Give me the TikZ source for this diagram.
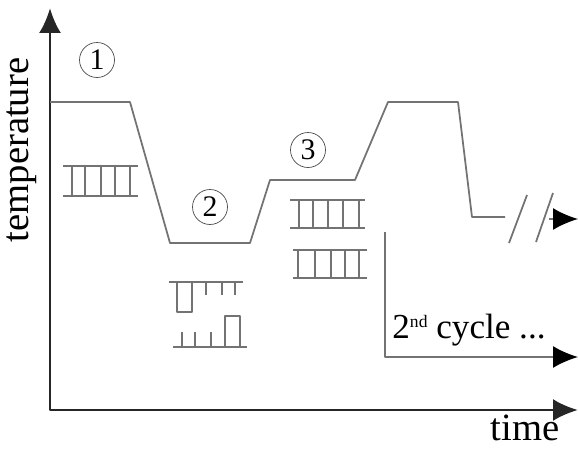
\documentclass[tikz,border=0pt]{standalone}
\usepackage{fontspec}
\setmainfont{Liberation Serif}
\usetikzlibrary{arrows.meta}

\begin{document}
\begin{tikzpicture}[x=0.02cm,y=-0.02cm,line join=round,
  font=\fontsize{22}{26}\selectfont,
  axis/.style={line width=1.6pt,black!85},
  tip/.style={-{Latex[length=0.5cm,width=0.44cm,color=black]}},
  curve/.style={line width=1pt,black!55},
  strand/.style={line width=1pt,black!55},
  phase/.style={circle,draw,black!70,text=black,inner sep=0pt,minimum size=0.7cm,
    font=\fontsize{17}{17}\selectfont}]
\useasboundingbox (0,0) rectangle (578,450);
% axes
\coordinate (ytop) at (50,8);
\coordinate (o) at (50,410);
\coordinate (xend) at (578,410);
\draw [axis,{Latex[length=0.5cm,width=0.44cm]}-{Latex[length=0.5cm,width=0.44cm]}] (ytop) -- (o) -- (xend);
\node (temp) at (22,150) [rotate=90] {temperature};
\node (time) at (525,428) {time};
% temperature profile
\coordinate (a) at (50,102);
\coordinate (b) at (130,102);
\coordinate (c) at (170,243);
\coordinate (d) at (250,243);
\coordinate (e) at (270,180);
\coordinate (f) at (355,180);
\coordinate (g) at (388,102);
\coordinate (h) at (458,102);
\coordinate (i) at (472,217);
\coordinate (j) at (505,217);
\draw [curve] (a) -- (b) -- (c) -- (d) -- (e) -- (f) -- (g) -- (h) -- (i) -- (j);
% axis break
\draw [curve] (509,243) -- (527,195);
\draw [curve] (536,242) -- (553,193);
\coordinate (brk) at (549,219);
\coordinate (brkend) at (578,219);
\draw [curve,tip] (brk) -- (brkend);
% phases
\node (p1) at (97,60) [phase] {1};
\node (p2) at (210,207) [phase] {2};
\node (p3) at (308,150) [phase] {3};
% double strand before melting
\coordinate (l1a) at (63,166);
\coordinate (l1b) at (138,166);
\coordinate (l1c) at (63,196);
\coordinate (l1d) at (138,196);
\draw [strand] (l1a) -- (l1b);
\draw [strand] (l1c) -- (l1d);
\draw [strand] (72,166) -- (72,196) (85,166) -- (85,196) (101,166) -- (101,196)
  (115,166) -- (115,196) (130,166) -- (130,196);
% single strands
\coordinate (s1a) at (169,282);
\coordinate (s1b) at (243,282);
\draw [strand] (s1a) -- (s1b);
\draw [strand] (177,282) -- (177,312) -- (192,312) -- (192,282);
\draw [strand] (206,282) -- (206,295) (222,282) -- (222,295) (235,282) -- (235,295);
\coordinate (s2a) at (173,347);
\coordinate (s2b) at (247,347);
\draw [strand] (s2a) -- (s2b);
\draw [strand] (182,347) -- (182,332) (195,347) -- (195,332) (211,347) -- (211,332);
\draw [strand] (225,347) -- (225,316) -- (240,316) -- (240,347);
% two new double strands
\coordinate (l2a) at (290,200);
\coordinate (l2b) at (365,200);
\coordinate (l2c) at (290,228);
\coordinate (l2d) at (365,228);
\draw [strand] (l2a) -- (l2b);
\draw [strand] (l2c) -- (l2d);
\draw [strand] (299,200) -- (299,228) (313,200) -- (313,228) (328,200) -- (328,228)
  (343,200) -- (343,228) (359,200) -- (359,228);
\coordinate (l3a) at (293,250);
\coordinate (l3b) at (367,250);
\coordinate (l3c) at (293,278);
\coordinate (l3d) at (367,278);
\draw [strand] (l3a) -- (l3b);
\draw [strand] (l3c) -- (l3d);
\draw [strand] (298,250) -- (298,278) (315,250) -- (315,278) (331,250) -- (331,278)
  (345,250) -- (345,278) (359,250) -- (359,278);
% next cycle
\coordinate (n1) at (385,232);
\coordinate (n2) at (385,357);
\coordinate (n3) at (578,357);
\draw [curve,tip] (n1) -- (n2) -- (n3);
\node (next) at (469,330) [font=\fontsize{20}{24}\selectfont]
  {2{\fontsize{10}{10}\selectfont\raisebox{0.6em}{nd}} cycle ...};
\end{tikzpicture}
\end{document}
